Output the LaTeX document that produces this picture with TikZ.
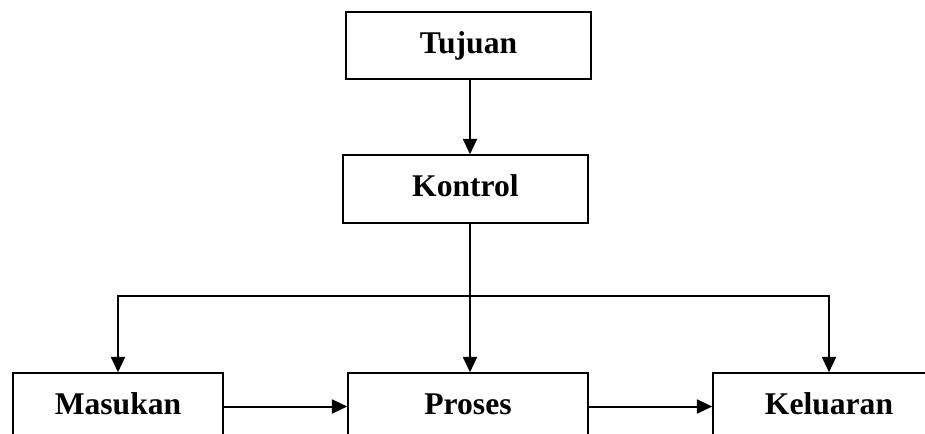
\documentclass[tikz,border=0pt]{standalone}
\usepackage{fontspec}
\setmainfont{Liberation Serif}
\usetikzlibrary{arrows.meta}
\begin{document}
\begin{tikzpicture}[x=0.75pt,y=-0.75pt,
  blok/.style={draw=black, line width=1.5pt*0.75, rectangle, inner sep=0pt,
    font=\fontsize{23.7}{28}\selectfont\bfseries,
    text height=16.6pt, text depth=4.7pt},
  panah/.style={line width=2pt*0.75, -{Triangle[length=11.5pt,width=10.5pt]}},
  garis/.style={line width=2pt*0.75}]
  \useasboundingbox (0,0) rectangle (925,433);
  \clip (0,0) rectangle (925,433);
  \fill[white] (0,0) rectangle (925,433);

  % boxes
  \node[blok, minimum width=245*0.75pt, minimum height=67*0.75pt] (Tujuan) at (468.5,45.5) {Tujuan};
  \node[blok, minimum width=245*0.75pt, minimum height=68*0.75pt] (Kontrol) at (465.5,189) {Kontrol};
  \node[blok, minimum width=210*0.75pt, minimum height=67*0.75pt] (Masukan) at (118,406.5) {Masukan};
  \node[blok, minimum width=240*0.75pt, minimum height=67*0.75pt] (Proses) at (468,406.5) {Proses};
  \node[blok, minimum width=232*0.75pt, minimum height=67*0.75pt] (Keluaran) at (829,406.5) {Keluaran};

  % distribution point below Kontrol
  \coordinate (bus) at (470,296);

  % connectors
  \draw[panah] (Tujuan.south -| bus) -- (Kontrol.north -| bus);
  \draw[garis] (Kontrol.south -| bus) -- (bus);
  \draw[panah] (bus) -- (bus |- Proses.north);
  \draw[panah] (bus) -| (Masukan.north);
  \draw[panah] (bus) -| (Keluaran.north);
  \draw[panah] (Masukan.east) -- (Proses.west);
  \draw[panah] (Proses.east) -- (Keluaran.west);
\end{tikzpicture}
\end{document}
